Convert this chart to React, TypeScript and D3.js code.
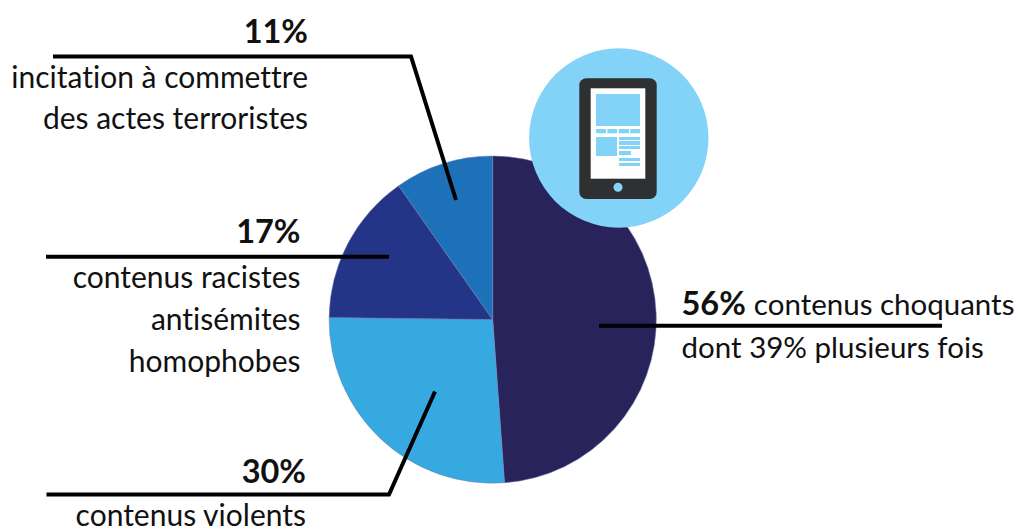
import React from "react";
import * as d3 from "d3";

const categories = ["contenus choquants", "contenus violents", "contenus racistes antisémites homophobes", "incitation à commettre des actes terroristes"];
// Slice shares as drawn in the picture (they differ slightly from the printed percentages).
const sliceShares = [48.85, 26.35, 15.05, 9.75];
const sliceColors = ["#29235c", "#36a9e1", "#243588", "#1d71b8"];

const FONT = "Lato, 'Open Sans', sans-serif";
const SIZE = 29.5;
const SIZE_LEFT = 30;
const BOLD = 32.5;
const cx = 492.7, cy = 319.6, R = 163.6;

const pie = d3.pie<number>().sort(null).value((d) => d);
const arc = d3.arc<d3.PieArcDatum<number>>().innerRadius(0).outerRadius(R);

const leaders = [
  [[53, 56.5], [411, 56.5], [456, 200]],
  [[46, 256.7], [389, 256.7]],
  [[46.5, 494.5], [389, 494.5], [435, 391.5]],
  [[599, 325.7], [942, 325.7]],
];
const line = d3.line();

type Lab = { x: number; y: number; t: string; b?: boolean };
const rightLabels: Lab[] = [
  { x: 308, y: 43, t: "11%", b: true },
  { x: 308, y: 87.5, t: "incitation à commettre" },
  { x: 308, y: 128.5, t: "des actes terroristes" },
  { x: 300.5, y: 243, t: "17%", b: true },
  { x: 300.5, y: 287.5, t: "contenus racistes" },
  { x: 300.5, y: 329.5, t: "antisémites" },
  { x: 300.5, y: 371.5, t: "homophobes" },
  { x: 306, y: 483, t: "30%", b: true },
  { x: 306, y: 526, t: "contenus violents" },
];

const iconBlue = "#83d3f9";
const iconDark = "#2e3032";
const iconRects = [
  [596, 94, 44, 32],
  [596, 129, 10, 4.3], [607.3, 129, 9.7, 4.3], [618.7, 129, 10.3, 4.3], [630.3, 129, 9.7, 4.3],
  [596, 137, 21, 19],
  [619, 137, 21, 3], [619, 141, 21, 4], [619, 146, 21, 3], [619, 151, 12, 4], [619, 158, 21, 3], [619, 163, 21, 3],
];

export default function App() {
  return (
    <svg width={1018} height={530} viewBox="0 0 1018 530" style={{ position: "absolute", left: 0, top: 0, display: "block", fontVariantLigatures: "none" }} fontFamily={FONT} fontSize={SIZE} fill="#111">
      <g transform={`translate(${cx},${cy})`}>
        {pie(sliceShares).map((d, i) => (
          <path key={categories[i]} d={arc(d) ?? ""} fill={sliceColors[i]} stroke="#6f7fb0" strokeWidth={0.5} />
        ))}
      </g>
      <circle cx={618.8} cy={138} r={89.7} fill={iconBlue} />
      <rect x={579.3} y={78.3} width={77.4} height={120.7} rx={7} fill={iconDark} />
      <rect x={590.7} y={88.3} width={54.6} height={90.4} fill="#fff" />
      {iconRects.map((r, i) => (
        <rect key={i} x={r[0]} y={r[1]} width={r[2]} height={r[3]} fill={iconBlue} />
      ))}
      <circle cx={618} cy={187.3} r={4.5} fill={iconBlue} />
      {leaders.map((p, i) => (
        <path key={i} d={line(p as [number, number][]) ?? ""} fill="none" stroke="#000" strokeWidth={4} strokeLinejoin="miter" />
      ))}
      {rightLabels.map((l) => (
        <text key={l.t} x={l.x} y={l.y} textAnchor="end" fontWeight={l.b ? 700 : 400} fontSize={l.b ? BOLD : SIZE_LEFT}>{l.t}</text>
      ))}
      <text x={681.5} y={315}>
        <tspan fontWeight={700} fontSize={BOLD}>56%</tspan>
        <tspan dx={8}>contenus choquants</tspan>
      </text>
      <text x={681.5} y={358}>dont 39% plusieurs fois</text>
    </svg>
  );
}
